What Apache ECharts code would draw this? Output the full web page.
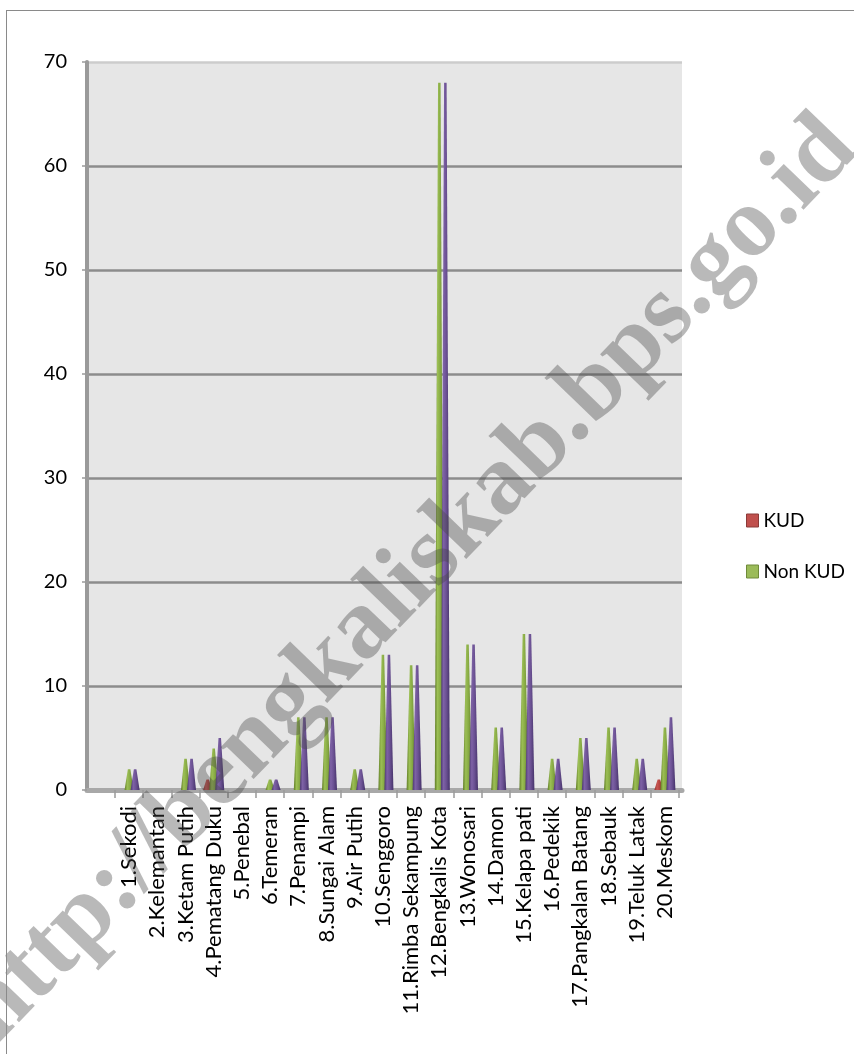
<!DOCTYPE html>
<html>
<head>
<meta charset="utf-8">
<script src="https://cdn.jsdelivr.net/npm/echarts@6/dist/echarts.min.js"></script>
<style>
html,body{margin:0;padding:0;background:#fff;}
#c{position:absolute;left:0;top:0;width:854px;height:1054px;}
#frame{position:absolute;left:6px;top:10px;width:900px;height:1100px;border-left:1px solid #8a8a8a;border-top:1px solid #8a8a8a;pointer-events:none;}
</style>
</head>
<body>
<div id="c"></div>
<div id="frame"></div>
<script>
const categories = ['1.Sekodi','2.Kelemantan','3.Ketam Putih','4.Pematang Duku','5.Penebal','6.Temeran','7.Penampi','8.Sungai Alam','9.Air Putih','10.Senggoro','11.Rimba Sekampung','12.Bengkalis Kota','13.Wonosari','14.Damon','15.Kelapa pati','16.Pedekik','17.Pangkalan Batang','18.Sebauk','19.Teluk Latak','20.Meskom'];
const kud    = [0,0,0,1,0,0,0,0,0,0,0,0,0,0,0,0,0,0,0,1];
const nonKud = [2,0,3,4,0,1,7,7,2,13,12,68,14,6,15,3,5,6,3,6];
const jumlah = [2,0,3,5,0,1,7,7,2,13,12,68,14,6,15,3,5,6,3,7];
const yTicks = {min:0, max:70, interval:10};
const watermark = 'http://bengkaliskab.bps.go.id';

function grad(a,b,c,d){
  return {type:'linear',x:0,y:0,x2:1,y2:0,colorStops:[
    {offset:0,color:a},{offset:0.3,color:b},{offset:0.6,color:c},{offset:1,color:d}]};
}
const chart = echarts.init(document.getElementById('c'));
const FONT = 'Lato';
const cone = {type:'pictorialBar', symbol:'path://M0,100 L36,0 L64,0 L100,100 Z', symbolSize:['100%','100%'],
  barWidth:9, barGap:'-33%', xAxisIndex:1, yAxisIndex:1};
chart.setOption({
  animation:false,
  grid:[
    {left:87, right:172, top:62, bottom:264, show:true, backgroundColor:'#e6e6e6', borderWidth:0},
    {left:115, right:175, top:62, bottom:264}
  ],
  xAxis:[
    {gridIndex:0, type:'value', min:0, max:1, axisLabel:{show:false}, axisTick:{show:false},
     splitLine:{show:false}, axisLine:{show:true, lineStyle:{color:'#a8a8a8', width:5}}},
    {gridIndex:1, type:'category', data:categories, boundaryGap:true,
     axisLine:{show:false},
     axisTick:{show:true, length:8, lineStyle:{color:'#9a9a9a', width:1.5}},
     axisLabel:{interval:0, rotate:90, margin:16, color:'#000', fontFamily:FONT, fontSize:22}}
  ],
  yAxis:[
    {gridIndex:0, type:'value', min:yTicks.min, max:yTicks.max, interval:yTicks.interval,
     axisLine:{show:true, lineStyle:{color:'#9a9a9a', width:4}},
     axisTick:{show:true, length:5, lineStyle:{color:'#9a9a9a', width:1.5}},
     axisLabel:{margin:20, color:'#000', fontFamily:FONT, fontSize:20},
     splitLine:{show:true, lineStyle:{width:2.5, color:['#a8a8a8','#8c8c8c','#8c8c8c','#8c8c8c','#8c8c8c','#8c8c8c','#8c8c8c','#cccccc']}}},
    {gridIndex:1, type:'value', min:yTicks.min, max:yTicks.max, interval:yTicks.interval, show:false, splitLine:{show:false}}
  ],
  legend:{
    orient:'vertical', left:741, top:506, itemWidth:12, itemHeight:13, itemGap:32, icon:'rect',
    textStyle:{fontFamily:FONT, fontSize:19, color:'#000'},
    data:[
      {name:'KUD', itemStyle:{color:'#c0504d', borderColor:'#8b3a38', borderWidth:1}},
      {name:'Non KUD', itemStyle:{color:'#9bbb59', borderColor:'#6f8a3a', borderWidth:1}}
    ]
  },
  graphic:[{
    type:'text', x:410, y:580, rotation:46*Math.PI/180, z:100, silent:true,
    style:{text:watermark, font:'bold 100px "Liberation Serif"', fill:'rgba(70,70,70,0.38)',
      textAlign:'center', textVerticalAlign:'middle'}
  }],
  series:[
    Object.assign({}, cone, {name:'KUD', data:kud, itemStyle:{color:grad('#8a2e2b','#c85854','#b3423e','#7e2a27')}}),
    Object.assign({}, cone, {name:'Non KUD', data:nonKud, itemStyle:{color:grad('#5f7c25','#9cbf55','#88ab45','#627f28')}}),
    Object.assign({}, cone, {name:'Jumlah', data:jumlah, itemStyle:{color:grad('#4c3870','#7e62a6','#6b5193','#46336a')}})
  ]
});
</script>
</body>
</html>
